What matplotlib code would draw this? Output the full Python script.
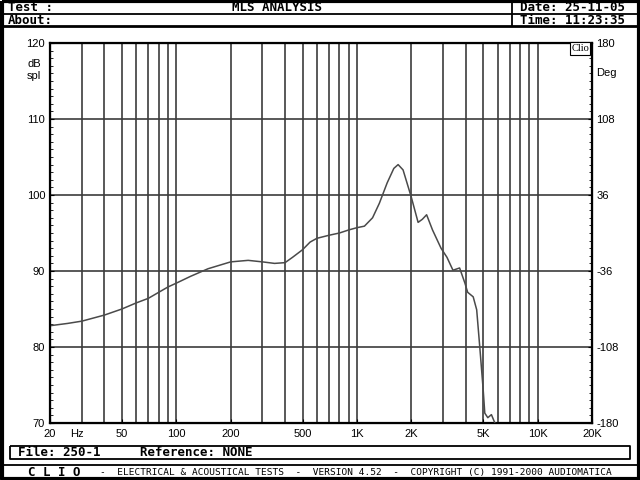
import matplotlib
matplotlib.use("Agg")
import matplotlib.pyplot as plt
from matplotlib.ticker import FixedLocator, NullFormatter, MultipleLocator

# response curve (Hz, dB spl)
freq = [20, 25, 30, 40, 50, 60, 70, 80, 90, 100, 120, 150, 200, 250, 300,
        350, 400, 440, 500, 550, 600, 700, 800, 900, 1000, 1100, 1220, 1330,
        1470, 1600, 1690, 1800, 2000, 2180, 2300, 2430, 2620, 2920, 3150,
        3400, 3700, 3960, 4100, 4400, 4600, 4800, 5000, 5100, 5300, 5550, 5800]
spl = [82.8, 83.1, 83.4, 84.2, 85.0, 85.8, 86.4, 87.2, 87.9, 88.4, 89.3,
       90.3, 91.2, 91.4, 91.2, 91.0, 91.1, 91.8, 92.8, 93.8, 94.3, 94.7,
       95.0, 95.4, 95.7, 95.9, 97.0, 98.9, 101.6, 103.5, 104.0, 103.3, 99.7,
       96.4, 96.8, 97.4, 95.4, 93.0, 91.8, 90.1, 90.4, 88.4, 87.2, 86.6,
       84.9, 79.6, 74.3, 71.3, 70.7, 71.1, 70.0]

x_ticks = [20, 50, 100, 200, 500, 1000, 2000, 5000, 10000, 20000]
x_labels = ['20', '50', '100', '200', '500', '1K', '2K', '5K', '10K', '20K']
y_ticks = [70, 80, 90, 100, 110, 120]
deg_labels = ['-180', '-108', '-36', '36', '108', '180']
grid_freqs = [m * 10 ** d for d in range(1, 4) for m in range(2, 11)]

W, H = 640, 480
fig = plt.figure(figsize=(6.4, 4.8), dpi=100)
fig.patch.set_facecolor('white')

gcol = '#3c3c3c'
tfont = 'Liberation Sans'
mono = 'DejaVu Sans Mono'

# plot area in pixels
L, R, T, B = 50, 592, 43, 423
ax = fig.add_axes([L / W, 1 - B / H, (R - L) / W, (B - T) / H])
ax.set_xscale('log')
ax.set_xlim(20, 20000)
ax.set_ylim(70, 120)

for f in grid_freqs:
    if 20 < f < 20000:
        ax.axvline(f, color=gcol, lw=1.2, zorder=1)
for v in y_ticks[1:-1]:
    ax.axhline(v, color=gcol, lw=1.2, zorder=1)

ax.plot(freq, spl, color='#4a4a4a', lw=1.1, zorder=3)

ax.xaxis.set_major_locator(FixedLocator(x_ticks))
ax.set_xticklabels(x_labels, family=tfont, fontsize=8)
ax.xaxis.set_minor_formatter(NullFormatter())
ax.tick_params(axis='x', which='major', direction='in', length=3, pad=4)
ax.tick_params(axis='x', which='minor', length=0)
ax.set_yticks(y_ticks)
ax.set_yticklabels([str(v) for v in y_ticks], family=tfont, fontsize=8)
ax.yaxis.set_minor_locator(MultipleLocator(1))
ax.tick_params(axis='y', which='major', direction='in', length=3, pad=3.5)
ax.tick_params(axis='y', which='minor', direction='in', length=2)
for s in ax.spines.values():
    s.set_linewidth(1.6)
    s.set_color('black')

ax2 = ax.twinx()
ax2.set_ylim(70, 120)
ax2.set_yticks(y_ticks)
ax2.set_yticklabels(deg_labels, family=tfont, fontsize=8)
ax2.yaxis.set_minor_locator(MultipleLocator(1))
ax2.tick_params(axis='y', which='major', direction='in', length=3, pad=3)
ax2.tick_params(axis='y', which='minor', direction='in', length=2)

# overlay in pixel coordinates for frame and text blocks
ov2 = fig.add_axes([0, 0, 1, 1], zorder=5)
ov2.set_xlim(0, W)
ov2.set_ylim(H, 0)
ov2.axis('off')
ov2.patch.set_alpha(0)

k = dict(color='black', solid_capstyle='butt')
ov2.plot([1.5, 1.5, W - 1.5, W - 1.5, 1.5], [1, H - 1, H - 1, 1, 1], lw=3, **k)
ov2.plot([0, W], [13.5, 13.5], lw=1.3, **k)
ov2.plot([0, W], [26, 26], lw=2, **k)
ov2.plot([512, 512], [0, 26], lw=1.3, **k)
ov2.plot([10, 630, 630, 10, 10], [446, 446, 459, 459, 446], lw=1.3, **k)
ov2.plot([0, W], [465, 465], lw=1.3, **k)

hdr = dict(family=mono, fontsize=9, fontweight='bold', va='center')
ov2.text(8, 7.5, 'Test :', **hdr)
ov2.text(8, 20, 'About:', **hdr)
ov2.text(277, 7.5, 'MLS ANALYSIS', ha='center', **hdr)
ov2.text(520, 7.5, 'Date: 25-11-05', **hdr)
ov2.text(520, 20, 'Time: 11:23:35', **hdr)
ov2.text(18, 452.5, 'File: 250-1', **hdr)
ov2.text(140, 452.5, 'Reference: NONE', **hdr)
ov2.text(28, 472, 'C L I O', **hdr)
ov2.text(100, 472, '-  ELECTRICAL & ACOUSTICAL TESTS  -  VERSION 4.52  -  '
         'COPYRIGHT (C) 1991-2000 AUDIOMATICA', family=mono, fontsize=6.8,
         va='center')

ov2.text(77, 434, 'Hz', family=tfont, fontsize=8, ha='center', va='center')
ov2.text(34, 64, 'dB', family=tfont, fontsize=8, ha='center', va='center')
ov2.text(34, 76, 'spl', family=tfont, fontsize=8, ha='center', va='center')
ov2.text(606, 73, 'Deg', family=tfont, fontsize=8, ha='center', va='center')
ov2.text(580, 48.5, 'Clio', family='Liberation Serif', fontsize=7.5,
         ha='center', va='center',
         bbox=dict(boxstyle='square,pad=0.15', fc='white', ec='black', lw=0.8))

fig.savefig('out.png', dpi=100)
